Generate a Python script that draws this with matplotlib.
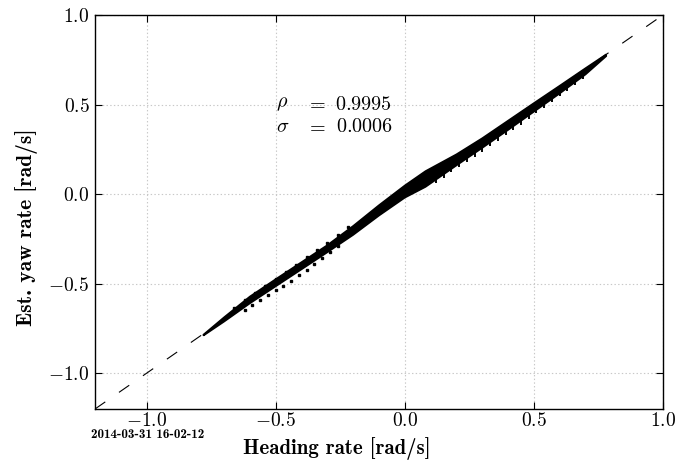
import numpy as np
import matplotlib
matplotlib.use('Agg')
import matplotlib.pyplot as plt

plt.rcParams['font.family'] = 'serif'
plt.rcParams['font.serif'] = ['cmr10']
plt.rcParams['mathtext.fontset'] = 'cm'
plt.rcParams['axes.formatter.use_mathtext'] = True
plt.rcParams['lines.scale_dashes'] = False

# edges of the dense band (heading rate vs est. yaw rate)
x_upper = [-0.78, -0.70, -0.60, -0.50, -0.40, -0.30, -0.20, -0.10, 0.00, 0.08,
           0.20, 0.30, 0.40, 0.50, 0.60, 0.70, 0.78]
y_upper = [-0.785, -0.688, -0.572, -0.475, -0.380, -0.285, -0.178, -0.062, 0.048, 0.128,
           0.222, 0.312, 0.410, 0.508, 0.605, 0.703, 0.780]
x_lower = [-0.78, -0.70, -0.60, -0.50, -0.40, -0.30, -0.20, -0.10, 0.00, 0.08,
           0.20, 0.30, 0.40, 0.50, 0.60, 0.70, 0.78]
y_lower = [-0.790, -0.712, -0.610, -0.515, -0.420, -0.325, -0.228, -0.120, -0.020, 0.040,
           0.160, 0.258, 0.358, 0.460, 0.562, 0.668, 0.770]

# sparse dots trailing below the band on the negative side
x_dots = [-0.62, -0.59, -0.56, -0.53, -0.50, -0.47, -0.44, -0.41, -0.38, -0.35, -0.32, -0.29, -0.26]
y_dots = [-0.645, -0.618, -0.590, -0.562, -0.536, -0.512, -0.484, -0.454, -0.424, -0.392, -0.358, -0.326, -0.292]

# dots sticking out above the band on the negative side
x_top = [-0.66, -0.62, -0.58, -0.54, -0.50, -0.46, -0.42, -0.38, -0.34, -0.30, -0.26, -0.22]
y_top = [-0.634, -0.592, -0.553, -0.513, -0.474, -0.434, -0.394, -0.354, -0.314, -0.273, -0.230, -0.186]

# comb strokes hanging under the band on the positive side
x_comb = [0.12, 0.15, 0.18, 0.21, 0.24, 0.27, 0.30, 0.33, 0.36, 0.39, 0.42, 0.45,
          0.48, 0.51, 0.54, 0.57, 0.60, 0.63, 0.66, 0.69]
y_comb = [0.080, 0.108, 0.138, 0.168, 0.196, 0.226, 0.254, 0.284, 0.314, 0.344, 0.374, 0.405,
          0.436, 0.467, 0.498, 0.530, 0.562, 0.595, 0.628, 0.662]

rho = 0.9995
sigma = 0.0006

fig = plt.figure(figsize=(6.96, 4.61), dpi=100)
ax = fig.add_axes([0.1365, 0.1128, 0.8161, 0.8547])

ax.plot([-1.2, 1.0], [-1.2, 1.0], color='k', lw=0.8, dashes=(9, 12), zorder=2)

ax.fill(x_upper + x_lower[::-1], y_upper + y_lower[::-1], color='k', lw=1.2, zorder=3)
ax.plot(x_dots, y_dots, 'ks', ms=1.6, zorder=3)
ax.plot(x_top, y_top, 'ks', ms=2.0, zorder=3)
ax.plot(x_comb, y_comb, 'k|', ms=4, mew=1.4, zorder=3)

fs = 14.5
ax.text(-0.5, 0.5, r'$\rho$', fontsize=fs, va='center')
ax.text(-0.381, 0.5, r'$=$', fontsize=fs, va='center')
ax.text(-0.271, 0.5, r'$%.4f$' % rho, fontsize=fs, va='center')
ax.text(-0.5, 0.375, r'$\sigma$', fontsize=fs, va='center')
ax.text(-0.381, 0.375, r'$=$', fontsize=fs, va='center')
ax.text(-0.265, 0.375, r'$%.4f$' % sigma, fontsize=fs, va='center')

ax.set_xlim(-1.2, 1.0)
ax.set_ylim(-1.2, 1.0)
ax.set_xticks([-1.0, -0.5, 0.0, 0.5, 1.0])
ax.set_yticks([-1.0, -0.5, 0.0, 0.5, 1.0])
ax.tick_params(direction='in', top=True, right=True, length=5, labelsize=14)
ax.tick_params(axis='x', pad=2)
ax.tick_params(axis='y', pad=4)
ax.grid(True, linestyle=':', color='#c8c8c8', lw=0.8)
ax.set_axisbelow(True)
for s in ax.spines.values():
    s.set_linewidth(1.0)

ax.set_xlabel('Heading rate [rad/s]', fontsize=15, family='cmb10')
ax.set_ylabel('Est. yaw rate [rad/s]', fontsize=15.5, family='cmb10')
ax.xaxis.set_label_coords(0.426, -0.072)
ax.yaxis.set_label_coords(-0.10, 0.462)

fig.text(91 / 696, 1 - 435 / 461, '2014-03-31 16-02-12', fontsize=9.5, family='cmb10', va='center')

fig.savefig('out.png', dpi=100)
